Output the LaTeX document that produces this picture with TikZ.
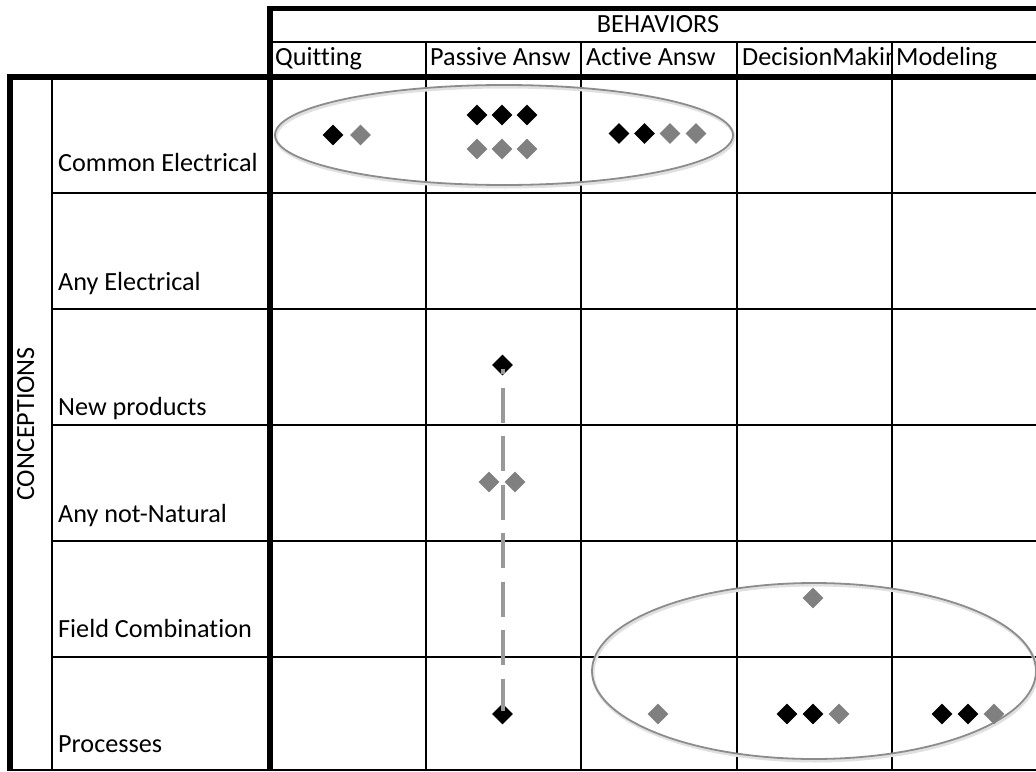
\documentclass[tikz,border=0pt]{standalone}
\usepackage{fontspec}
\setmainfont{Carlito}[Ligatures=NoCommon]
\usepackage{tikz}
\usetikzlibrary{positioning,shapes.geometric,shadows}

\begin{document}
\begin{tikzpicture}[x=1pt, y=-1pt]
        \tikzstyle{every node}=[inner sep=0pt, font=\fontsize{26.2}{30}\selectfont]
        \tikzstyle{blk}=[diamond, fill=black, minimum width=21pt, minimum height=21pt]
        \tikzstyle{gry}=[diamond, fill=black!50, minimum width=21pt, minimum height=21pt]
        \tikzstyle{grp}=[ellipse, draw=black!45, line width=1.8pt,
                         general shadow={shadow xshift=1pt, shadow yshift=-2pt, draw=black!12, line width=3pt}]
        \tikzstyle{gridline}=[line width=2pt]
        \tikzstyle{heavyline}=[line width=5.5pt]
        \tikzstyle{lbl}=[anchor=base west]
        \tikzstyle{link}=[black!40, line width=4pt, dash pattern=on 35pt off 13.5pt, dash phase=30pt]

        \useasboundingbox (0,0) rectangle (1036,771);

        % table
        \foreach \y in {193,309,425,541,657}
            \draw[gridline] (52,\y) -- (1036,\y);
        \draw[gridline] (10,770) -- (1036,770);
        \draw[gridline] (270,42) -- (1036,42);
        \foreach \x in {425.5,581,736.5,892}
            \draw[gridline] (\x,42) -- (\x,771);
        \draw[gridline] (52,77) -- (52,771);
        \draw[heavyline] (267,8.5) -- (1036,8.5);
        \draw[heavyline] (270,5.75) -- (270,771);
        \draw[heavyline] (7,77) -- (1036,77);
        \draw[heavyline] (10,74) -- (10,771);

        % headers
        \node[anchor=base] (beh) at (658,32) {BEHAVIORS};
        \node[lbl] (quit) at (275,65) {Quitting};
        \node[lbl] (pass) at (430,65) {Passive Answ};
        \node[lbl] (act)  at (586,65) {Active Answ};
        \begin{scope}
            \clip (736.5,42) rectangle (892,77);
            \node[lbl] (dec) at (742,65) {DecisionMaking};
        \end{scope}
        \node[lbl] (mod) at (896,65) {Modeling};

        \node[rotate=90, anchor=base] (conc) at (34,424) {CONCEPTIONS};
        \node[lbl] (ce) at (58,171) {Common Electrical};
        \node[lbl] (ae) at (58,290) {Any Electrical};
        \node[lbl] (np) at (58,415) {New products};
        \node[lbl] (an) at (58,522) {Any not-Natural};
        \node[lbl] (fc) at (58,637) {Field Combination};
        \node[lbl] (pr) at (58,752) {Processes};

        % groups
        \node[grp, minimum width=458pt, minimum height=100pt] (grpA) at (504,135) {};
        \node[grp, minimum width=444pt, minimum height=176pt] (grpB) at (814,671) {};

        % marks
        \node[blk] (q1) at (333,135) {};
        \node[gry] (q2) at (360.5,135) {};

        \node[blk] (p1) at (477,115) {};
        \node[blk] (p2) at (502,115) {};
        \node[blk] (p3) at (527,115) {};
        \node[gry] (p4) at (477,149) {};
        \node[gry] (p5) at (502,149) {};
        \node[gry] (p6) at (527,149) {};

        \node[blk] (a1) at (619,133.5) {};
        \node[blk] (a2) at (644.5,133.5) {};
        \node[gry] (a3) at (670,133.5) {};
        \node[gry] (a4) at (696,133.5) {};

        \node[blk] (n1) at (502.5,365) {};
        \node[gry] (u1) at (489,482) {};
        \node[gry] (u2) at (515,482) {};
        \node[gry] (f1) at (813,598) {};

        \node[blk] (r1) at (502.5,714) {};
        \node[gry] (r2) at (658,714) {};
        \node[blk] (r3) at (787,714) {};
        \node[blk] (r4) at (813,714) {};
        \node[gry] (r5) at (839,714) {};
        \node[blk] (r6) at (942,714) {};
        \node[blk] (r7) at (968,714) {};
        \node[gry] (r8) at (994,714) {};

        \draw[link, shorten <=4pt, shorten >=3pt] (n1.center) -- (r1.center);

    \end{tikzpicture}
\end{document}
